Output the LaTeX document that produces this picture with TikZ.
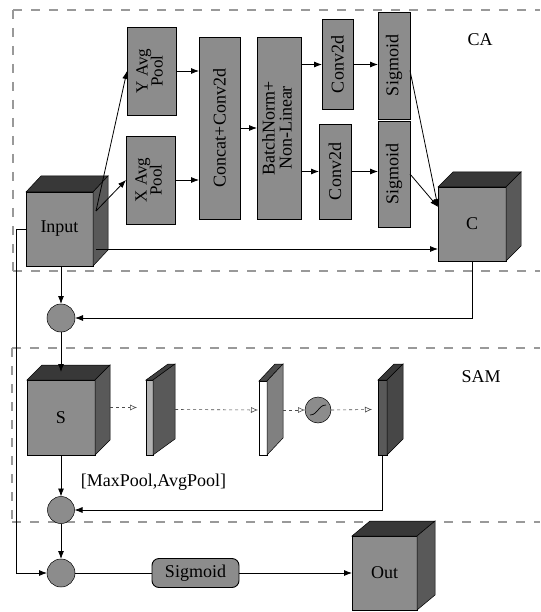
\documentclass[tikz,border=0pt]{standalone}
\usepackage{fontspec}
\setmainfont{Liberation Serif}
\usetikzlibrary{calc,arrows.meta}
\newcommand{\cubefaces}[5]{%
  \filldraw[fill=#4,draw=black,line width=0.5pt] (#1.north west) -- ($(#1.north west)+(#2,-#3)$) -- ($(#1.north east)+(#2,-#3)$) -- (#1.north east) -- cycle;
  \filldraw[fill=#5,draw=black,line width=0.5pt] (#1.north east) -- ($(#1.north east)+(#2,-#3)$) -- ($(#1.south east)+(#2,-#3)$) -- (#1.south east) -- cycle;
}
\newcommand{\twol}[2]{\begin{tabular}{@{}c@{}}#1\\[-3pt]#2\end{tabular}}
\begin{document}
\begin{tikzpicture}[x=1pt,y=-1pt,
  every node/.style={font=\fontsize{18}{20}\selectfont, inner sep=0pt, outer sep=0pt},
  face/.style={draw=black, line width=0.5pt, fill=black!45},
  box/.style={face, rectangle, line width=0.7pt},
  dot/.style={circle, face, minimum size=28pt},
  sep/.style={draw=gray!80, line width=1.1pt, dash pattern=on 9pt off 9pt},
  arr/.style={draw=black, line width=0.8pt, -{Latex[length=8pt,width=6pt]}},
  ln/.style={draw=black, line width=0.8pt},
  darr/.style={draw=gray!60!black, line width=0.6pt, dashed, -{Latex[open,length=7pt,width=6pt]}},
]
\useasboundingbox (0,0) rectangle (540,612);
\fill[white] (0,0) rectangle (540,612);

% separators
\draw[sep] (13,10) -- (540,10);
\draw[sep] (13,10) -- (13,271);
\draw[sep] (13,271) -- (540,271);
\draw[sep] (12,348) -- (540,348);
\draw[sep] (12,348) -- (12,522);
\draw[sep] (12,522) -- (540,522);

% CA part
\node[box, minimum width=67pt, minimum height=74pt] (input) at (59.5,229) {Input};
\cubefaces{input}{15}{16}{black!78}{black!65}
\node[box, minimum width=49pt, minimum height=88pt] (ypool) at (151.5,71) {\rotatebox{90}{\fontsize{17}{18}\selectfont\twol{Y Avg}{Pool}}};
\node[box, minimum width=49pt, minimum height=88pt] (xpool) at (150.5,180) {\rotatebox{90}{\fontsize{17}{18}\selectfont\twol{X Avg}{Pool}}};
\node[box, minimum width=41pt, minimum height=182pt] (concat) at (219.5,128) {\rotatebox{90}{Concat+Conv2d}};
\node[box, minimum width=44pt, minimum height=182pt] (bn) at (279,128) {\rotatebox{90}{\twol{BatchNorm+}{Non-Linear}}};
\node[box, minimum width=31pt, minimum height=90pt] (conv1) at (337.5,64.5) {\rotatebox{90}{Conv2d}};
\node[box, minimum width=32pt, minimum height=95pt] (conv2) at (335,171.5) {\rotatebox{90}{Conv2d}};
\node[box, minimum width=32pt, minimum height=107pt] (sig1) at (394,65.5) {\rotatebox{90}{Sigmoid}};
\node[box, minimum width=32pt, minimum height=106pt] (sig2) at (394,174) {\rotatebox{90}{Sigmoid}};
\node[box, minimum width=68pt, minimum height=74pt] (C) at (472,224) {C};
\cubefaces{C}{15}{15}{black!78}{black!65}
\node (ca) at (480,40) {CA};

% middle
\node[dot] (circ1) at (61,318) {};

% SAM part
\node[box, minimum width=68pt, minimum height=75pt] (S) at (61,417.5) {S};
\cubefaces{S}{15}{15}{black!78}{black!65}
\node[face, rectangle, fill=black!30, minimum width=7pt, minimum height=75pt] (slab1) at (149.5,417.5) {};
\cubefaces{slab1}{22}{16}{black!75}{black!65}
\node[face, rectangle, fill=white, minimum width=8pt, minimum height=74pt] (slab2) at (263,418) {};
\cubefaces{slab2}{16}{17}{black!70}{black!50}
\node[dot, minimum size=26pt] (sigc) at (318,410) {};
\draw[line width=0.7pt] ($(sigc)+(-8,5)$) .. controls ($(sigc)+(0,5)$) and ($(sigc)+(0,-5)$) .. ($(sigc)+(8,-5)$);
\node[face, rectangle, fill=black!65, minimum width=9pt, minimum height=75pt] (slab3) at (382.5,417.5) {};
\cubefaces{slab3}{16}{16}{black!78}{black!72}
\node (sam) at (481,377) {SAM};
\node (mp) at (153.5,482) {[MaxPool,AvgPool]};
\node[dot, minimum size=27pt] (circ2) at (61,510) {};
\node[dot] (circ3) at (61,573) {};
\node[face, rounded corners=7pt, minimum width=87pt, minimum height=29pt, line width=0.9pt] (sigbox) at (195.5,573) {Sigmoid};
\node[box, minimum width=65pt, minimum height=74pt] (out) at (384.5,573) {Out};
\cubefaces{out}{18}{15}{black!78}{black!65}

% CA connectors
\coordinate (inA) at ($(input.east)+(3,-18)$);
\draw[arr] (inA) -- (ypool.west);
\draw[arr] (inA) -- (xpool.west);
\draw[arr] (ypool.east) -- (ypool.east -| concat.west);
\draw[arr] (xpool.east) -- (xpool.east -| concat.west);
\draw[arr] (concat.east) -- (bn.west);
\draw[arr] (bn.east |- conv1.west) -- (conv1.west);
\draw[arr] (bn.east |- conv2.west) -- (conv2.west);
\draw[arr] (conv1.east) -- (conv1.east -| sig1.west);
\draw[arr] (conv2.east) -- (conv2.east -| sig2.west);
\coordinate (cin) at ($(C.west)+(0,-17)$);
\draw[arr] ($(sig1.east)+(0,5)$) -- (cin);
\draw[arr] (sig2.east) -- (cin);
\coordinate (inB) at ($(input.east)+(3,20)$);
\draw[arr] (inB) -- (inB -| C.west);
\draw[arr] (C.south) |- (circ1.east);
\draw[arr] (circ1 |- input.south) -- (circ1.north);
\coordinate (sTop) at ($(S.north)+(0,-8)$);
\draw[arr] (circ1.south) -- (circ1 |- sTop);
\coordinate (lft) at (16,229);
\draw[arr] (input.west) -- (input.west -| lft) |- (circ3.west);

% SAM connectors
\draw[darr] ($(S.east)+(15,-10)$) -- ($(slab1.west)+(-9,-10)$);
\draw[darr] ($(slab1.east)+(22,-8)$) -- ($(slab2.west)+(-1,-8)$);
\draw[darr] ($(slab2.east)+(16,-8)$) -- (sigc.west);
\draw[darr] (sigc.east) -- ($(slab3.west)+(-6,-8)$);
\draw[arr] (S.south -| circ2) -- (circ2.north);
\draw[arr] (slab3.south) |- (circ2.east);
\draw[arr] (circ2.south) -- (circ3.north);
\draw[ln] (circ3.east) -- (sigbox.west);
\draw[arr] (sigbox.east) -- (out.west);
\end{tikzpicture}
\end{document}
